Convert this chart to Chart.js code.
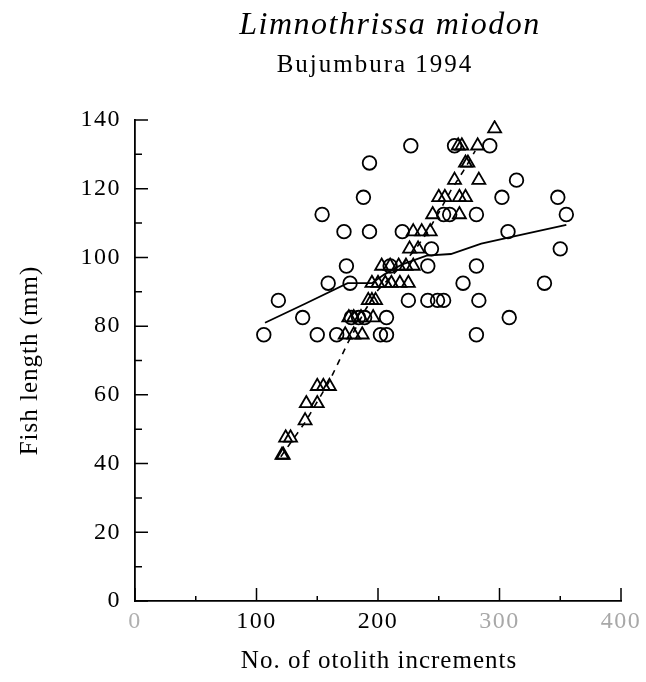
<!DOCTYPE html>
<html>
<head>
<meta charset="utf-8">
<script src="https://cdn.jsdelivr.net/npm/chart.js@4.4.1/dist/chart.umd.min.js"></script>
<style>
  html, body { margin: 0; padding: 0; background: #fff; }
</style>
</head>
<body>
<canvas id="canvas" width="646" height="682"></canvas>
<script>
// circles (one group of fish)
var circleX = [227, 263, 292,
               193,
               314,
               188, 302, 348,
               154, 254, 259, 281, 355,
               172, 193, 220, 307,
               244, 350,
               174, 210, 241, 281,
               159, 177, 270, 337,
               118, 225, 241, 249, 254, 283,
               138, 178, 184, 189, 207, 308,
               106, 150, 166, 202, 207, 281];
var circleY = [132.5, 132.5, 132.5,
               127.5,
               122.5,
               117.5, 117.5, 117.5,
               112.5, 112.5, 112.5, 112.5, 112.5,
               107.5, 107.5, 107.5, 107.5,
               102.5, 102.5,
               97.5, 97.5, 97.5, 97.5,
               92.5, 92.5, 92.5, 92.5,
               87.5, 87.5, 87.5, 87.5, 87.5, 87.5,
               82.5, 82.5, 82.5, 82.5, 82.5, 82.5,
               77.5, 77.5, 77.5, 77.5, 77.5, 77.5];

// triangles (other group)
var triX = [296,
            266, 269, 282,
            272, 274,
            263, 283,
            250, 255, 267, 272,
            245, 267,
            229, 236, 243,
            226, 233,
            203, 210, 217, 223, 229,
            195, 200, 206, 211, 218, 225,
            192, 195, 198,
            176, 180, 186, 196,
            173, 180, 187,
            150, 155, 160,
            141, 150,
            140,
            124, 128,
            121, 122];
var triY = [137.5,
            132.5, 132.5, 132.5,
            127.5, 127.5,
            122.5, 122.5,
            117.5, 117.5, 117.5, 117.5,
            112.5, 112.5,
            107.5, 107.5, 107.5,
            102.5, 102.5,
            97.5, 97.5, 97.5, 97.5, 97.5,
            92.5, 92.5, 92.5, 92.5, 92.5, 92.5,
            87.5, 87.5, 87.5,
            82.5, 82.5, 82.5, 82.5,
            77.5, 77.5, 77.5,
            62.5, 62.5, 62.5,
            57.5, 57.5,
            52.5,
            47.5, 47.5,
            42.5, 42.5];

// smoothed trends
var solidX = [107, 140, 175, 195, 205, 220, 240, 260, 285, 310, 355];
var solidY = [81, 86.5, 92.5, 92.5, 95, 98, 100.5, 101, 104, 106, 109.5];
var dashX = [120, 140, 160, 175, 190, 200, 215, 230, 240, 250, 260, 270, 280];
var dashY = [42, 52, 64, 75, 85, 90.5, 96, 102, 107, 113, 119.5, 125, 131];

var xMajorTicks = [0, 100, 200, 300, 400];
var xMinorTicks = [50, 150, 250, 350];
var yMajorTicks = [0, 20, 40, 60, 80, 100, 120, 140];
var yMinorTicks = [10, 30, 50, 70, 90, 110, 130];
var xLabelColors = ['#b0b0b0', '#000', '#000', '#a8a8a8', '#a8a8a8'];

function toPoints(xs, ys) {
    var pts = [];
    for (var i = 0; i < xs.length; i++) {
        pts.push({x: xs[i], y: ys[i]});
    }
    return pts;
}

var serif = '"Liberation Serif", "DejaVu Serif", serif';

// tick labels in the scan are a little tracked out
var tickSpacing = {
    id: 'tickSpacing',
    beforeDraw: function(chart) { chart.ctx.letterSpacing = '1.5px'; },
    beforeDatasetsDraw: function(chart) { chart.ctx.letterSpacing = '0px'; }
};

// inward tick marks, like the printed figure
var axisTicks = {
    id: 'axisTicks',
    afterDatasetsDraw: function(chart) {
        var ctx = chart.ctx, xs = chart.scales.x, ys = chart.scales.y;
        ctx.save();
        ctx.strokeStyle = '#000';
        ctx.lineWidth = 1.5;
        ctx.beginPath();
        xMajorTicks.forEach(function(v) {
            var px = xs.getPixelForValue(v);
            ctx.moveTo(px, ys.bottom); ctx.lineTo(px, ys.bottom - 13);
        });
        xMinorTicks.forEach(function(v) {
            var px = xs.getPixelForValue(v);
            ctx.moveTo(px, ys.bottom); ctx.lineTo(px, ys.bottom - 5);
        });
        yMajorTicks.forEach(function(v) {
            var py = ys.getPixelForValue(v);
            ctx.moveTo(xs.left, py); ctx.lineTo(xs.left + 13, py);
        });
        yMinorTicks.forEach(function(v) {
            var py = ys.getPixelForValue(v);
            ctx.moveTo(xs.left, py); ctx.lineTo(xs.left + 7, py);
        });
        ctx.stroke();
        ctx.restore();
    }
};

// titles: the header sits to the right of centre in the original
var figureText = {
    id: 'figureText',
    afterDraw: function(chart) {
        var ctx = chart.ctx, area = chart.chartArea;
        ctx.save();
        ctx.fillStyle = '#000';
        ctx.textAlign = 'center';
        ctx.textBaseline = 'alphabetic';
        ctx.letterSpacing = '1.5px';
        ctx.font = 'italic 32px ' + serif;
        ctx.fillText('Limnothrissa miodon', 390, 34);
        ctx.letterSpacing = '2px';
        ctx.font = '25px ' + serif;
        ctx.fillText('Bujumbura 1994', 375, 72);

        ctx.letterSpacing = '1px';
        ctx.font = '25px ' + serif;
        ctx.textBaseline = 'middle';
        ctx.fillText('No. of otolith increments', (area.left + area.right) / 2 + 1, 661);
        ctx.translate(30, (area.top + area.bottom) / 2);
        ctx.rotate(-Math.PI / 2);
        ctx.fillText('Fish length (mm)', 0, 0);
        ctx.restore();
    }
};

var canvasCxt = document.getElementById('canvas').getContext('2d');
var fishChart = new Chart(canvasCxt, {
    type: 'scatter',
    data: {
        datasets: [
            {
                label: 'circles',
                data: toPoints(circleX, circleY),
                pointStyle: 'circle',
                pointRadius: 6.8,
                pointBorderWidth: 1.8,
                pointBorderColor: '#000',
                pointBackgroundColor: 'rgba(0,0,0,0)',
                showLine: false
            },
            {
                label: 'triangles',
                data: toPoints(triX, triY),
                pointStyle: 'triangle',
                pointRadius: 7.5,
                pointBorderWidth: 1.8,
                pointBorderColor: '#000',
                pointBackgroundColor: 'rgba(0,0,0,0)',
                showLine: false
            },
            {
                label: 'circle trend',
                data: toPoints(solidX, solidY),
                showLine: true,
                borderColor: '#000',
                borderWidth: 1.8,
                pointRadius: 0,
                tension: 0
            },
            {
                label: 'triangle trend',
                data: toPoints(dashX, dashY),
                showLine: true,
                borderColor: '#000',
                borderWidth: 1.6,
                borderDash: [6, 6],
                pointRadius: 0,
                tension: 0
            }
        ]
    },
    options: {
        responsive: false,
        animation: false,
        devicePixelRatio: 1,
        layout: { padding: { top: 120, right: 25, left: 0, bottom: 0 } },
        plugins: {
            legend: { display: false },
            tooltip: { enabled: false }
        },
        scales: {
            x: {
                type: 'linear',
                min: 0,
                max: 400,
                grid: { display: false, drawTicks: false },
                border: { display: true, color: '#000', width: 1.8 },
                ticks: {
                    stepSize: 100,
                    padding: 6,
                    color: function(c) { return xLabelColors[c.index] || '#000'; },
                    font: { family: serif, size: 24 }
                },
                afterFit: function(scale) { scale.height = 81; }
            },
            y: {
                type: 'linear',
                min: 0,
                max: 140,
                grid: { display: false, drawTicks: false },
                border: { display: true, color: '#000', width: 1.8 },
                ticks: {
                    stepSize: 20,
                    padding: 14,
                    color: '#000',
                    font: { family: serif, size: 24 }
                },
                afterFit: function(scale) { scale.width = 135; }
            }
        }
    },
    plugins: [tickSpacing, axisTicks, figureText]
});
</script>
</body>
</html>
